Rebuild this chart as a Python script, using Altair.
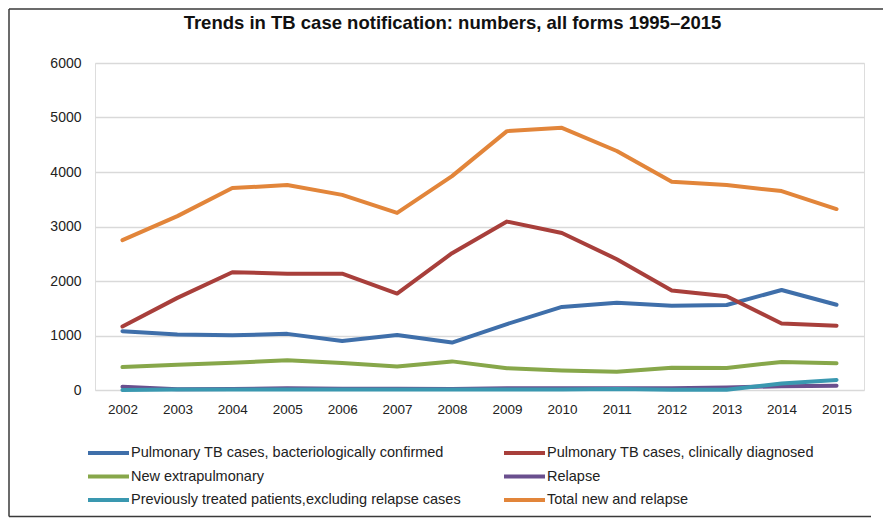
import altair as alt
import pandas as pd

years = [str(y) for y in range(2002, 2016)]

series_names = [
    "Pulmonary TB cases, bacteriologically confirmed",
    "Pulmonary TB cases, clinically diagnosed",
    "New extrapulmonary",
    "Relapse",
    "Previously treated patients,excluding relapse cases",
    "Total new and relapse",
]
series_colors = ["#3F6FAA", "#A83F3B", "#87A74A", "#6A4F8E", "#3A98B0", "#E2853A"]

bact_confirmed = [1080, 1020, 1005, 1030, 900, 1010, 870, 1210, 1525, 1600, 1545, 1560, 1835, 1565]
clin_diagnosed = [1165, 1690, 2160, 2135, 2135, 1770, 2510, 3090, 2880, 2400, 1825, 1720, 1220, 1180]
extrapulmonary = [420, 465, 500, 545, 495, 430, 525, 400, 360, 335, 410, 405, 515, 490]
relapse = [60, 15, 20, 30, 25, 25, 20, 30, 30, 30, 30, 45, 70, 80]
prev_treated = [0, 10, 10, 10, 10, 10, 10, 10, 10, 20, 5, 5, 120, 185]
total_new_relapse = [2750, 3190, 3705, 3760, 3580, 3250, 3925, 4750, 4810, 4385, 3820, 3760, 3650, 3320]

y_ticks = [0, 1000, 2000, 3000, 4000, 5000, 6000]

all_values = [bact_confirmed, clin_diagnosed, extrapulmonary, relapse, prev_treated, total_new_relapse]
rows = []
for i, (name, vals) in enumerate(zip(series_names, all_values)):
    for yr, v in zip(years, vals):
        rows.append({"year": yr, "value": v, "series": name, "order": i})
df = pd.DataFrame(rows)

FONT = "Liberation Sans"

lines = alt.Chart(df).mark_line(strokeWidth=4, strokeCap="round", strokeJoin="round").encode(
    x=alt.X("year:O", sort=years, scale=alt.Scale(type="point", padding=0.5),
            axis=alt.Axis(title=None, labelAngle=0, ticks=False, domain=False, grid=False,
                          labelFontSize=13.5, labelColor="#222222", labelFont=FONT, labelPadding=12)),
    y=alt.Y("value:Q", scale=alt.Scale(domain=[0, 6000], nice=False),
            axis=alt.Axis(title=None, values=y_ticks, format="d", ticks=False, domain=False,
                          gridColor="#d9d9d9", gridWidth=1.5, labelFontSize=14,
                          labelColor="#222222", labelFont=FONT, labelPadding=14)),
    color=alt.Color("series:N", sort=series_names,
                    scale=alt.Scale(domain=series_names, range=series_colors),
                    legend=alt.Legend(title=None, orient="none", legendX=-9, legendY=382,
                                      columns=2, direction="horizontal",
                                      symbolType="stroke", symbolSize=1681, symbolStrokeWidth=4,
                                      clipHeight=16,
                                      labelFontSize=14.5, labelFont=FONT, labelColor="#222222",
                                      labelOffset=0, columnPadding=41, rowPadding=7.5,
                                      labelLimit=400)),
    order=alt.Order("order:Q"),
)

frame_src = alt.Chart(pd.DataFrame({"k": [0]}))
top_rule = frame_src.mark_rule(stroke="#3a3a3a", strokeWidth=1.5).encode(
    x=alt.value(-86), x2=alt.value(788), y=alt.value(-54))
left_rule = frame_src.mark_rule(stroke="#3a3a3a", strokeWidth=1.5).encode(
    x=alt.value(-86), y=alt.value(-54), y2=alt.value(453.5))
bottom_rule = frame_src.mark_rule(stroke="#3a3a3a", strokeWidth=1.5).encode(
    x=alt.value(-86), x2=alt.value(776), y=alt.value(453.5))

chart = alt.layer(lines, top_rule, left_rule, bottom_rule).properties(
    width=769, height=327,
    padding={"left": 87, "top": 55, "right": 19, "bottom": 128},
    autosize=alt.AutoSizeParams(type="none"),
    title=alt.TitleParams("Trends in TB case notification: numbers, all forms 1995\u20132015",
                          font=FONT, fontSize=18.5, fontWeight="bold", color="#111111",
                          anchor="middle", dx=-27, offset=-23.75),
).configure_view(stroke=None).configure(background="white")

chart.save("out.html", embed_options={"renderer": "svg", "actions": False})
